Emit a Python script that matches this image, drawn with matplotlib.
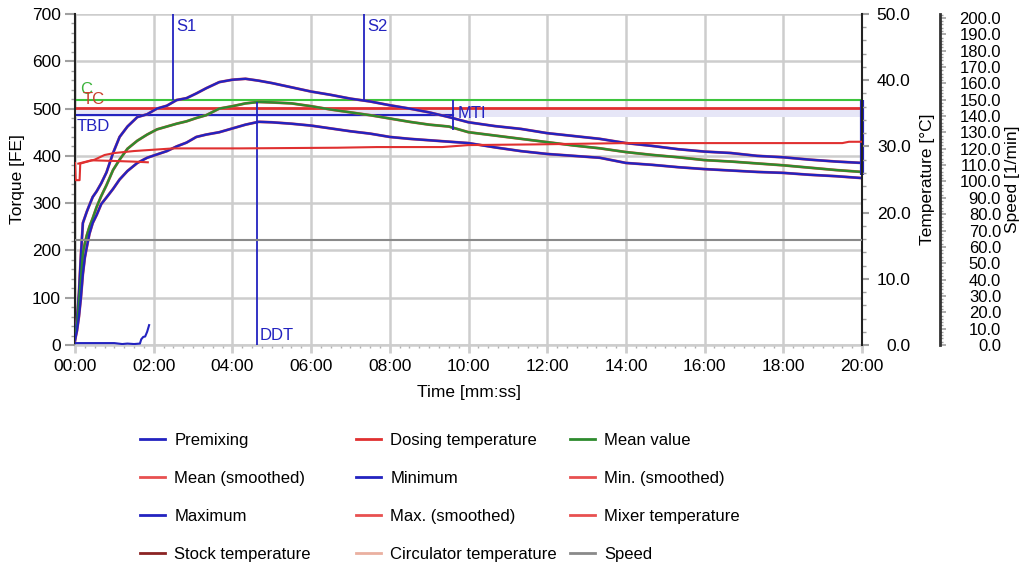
import matplotlib.pyplot as plt
from matplotlib.ticker import FuncFormatter, MultipleLocator, FormatStrFormatter
from matplotlib.lines import Line2D

plt.rcParams['font.family'] = ['Liberation Sans', 'DejaVu Sans']
plt.rcParams['font.size'] = 12.5

# --- measured curves (time in seconds) ---
time_s = [0, 3, 6, 9, 12, 15, 18, 22, 27, 33, 40, 48, 58, 68, 80, 95, 110, 125,
          140, 155, 170, 185, 200, 220, 240, 260, 280, 300, 330, 360, 390, 420,
          450, 480, 510, 540, 570, 600, 640, 680, 720, 760, 800, 840, 880, 920,
          960, 1000, 1040, 1080, 1120, 1160, 1200]

torque_max = [20, 53, 110, 190, 258, 270, 282, 296, 313, 325, 342, 365, 406, 440,
              462, 482, 488, 500, 506, 518, 522, 532, 543, 556, 561, 563, 559, 554,
              545, 536, 529, 521, 515, 507, 500, 492, 482, 471, 463, 457, 448, 442,
              436, 427, 421, 414, 409, 406, 400, 397, 392, 388, 385]

torque_mean = [15, 40, 90, 140, 194, 215, 232, 250, 268, 292, 315, 338, 370, 392,
               415, 432, 445, 456, 462, 468, 473, 480, 486, 500, 505, 511, 514, 513,
               511, 505, 498, 492, 486, 479, 472, 466, 462, 450, 443, 436, 429, 422,
               416, 408, 402, 397, 391, 388, 384, 380, 375, 370, 366]

torque_min = [10, 30, 60, 100, 150, 185, 207, 235, 258, 275, 298, 312, 330, 350,
              368, 385, 396, 403, 410, 420, 428, 440, 445, 450, 458, 466, 472, 471,
              468, 464, 458, 452, 447, 440, 436, 433, 430, 427, 418, 410, 404, 400,
              396, 385, 381, 376, 372, 369, 366, 364, 360, 357, 353]

premix_t = [0, 20, 40, 60, 72, 80, 90, 99, 101, 104, 107, 110, 113]
premix_torque = [4, 4, 4, 4, 2, 3, 2, 3, 12, 17, 18, 28, 42]

mixer_t = [0, 1, 7, 8, 15, 30, 45, 60, 90, 120, 150, 250, 400, 460, 560, 600,
           700, 840, 1000, 1170, 1180, 1200]
mixer_temp = [27.5, 24.9, 24.9, 27.4, 27.6, 28.0, 28.7, 29.0, 29.3, 29.5, 29.7,
              29.7, 29.8, 29.9, 29.9, 30.2, 30.3, 30.5, 30.5, 30.5, 30.7, 30.7]

dosing_t = [5, 25, 60, 90, 111]
dosing_temp = [27.4, 27.9, 27.8, 27.7, 27.6]

speed_t = [0, 1200]
speed_rpm = [64, 64]

# --- evaluation lines ---
marker_names = ['S1', 'DDT', 'S2', 'MTI']
marker_times = [149, 278, 441, 576]
marker_low = [518, 0, 518, 455]
marker_high = [700, 514, 700, 518]

level_c = 518
level_tc = 501
level_tbd = 486
band_low, band_high = 482, 501
end_bar = [360, 518]

BLUE = '#2323c0'
RED = '#e03030'
RED_S = '#e85050'
GREEN = '#2e8b2e'
GRID = '#cdcdcd'

fig = plt.figure(figsize=(10.26, 5.65), dpi=100)
ax = fig.add_axes([0.0731, 0.3894, 0.7671, 0.5858])
ax.set_xlim(0, 1200)
ax.set_ylim(0, 700)

ax.grid(True, which='major', color=GRID, lw=1.8, zorder=0)
ax.set_axisbelow(True)

ax.axhspan(band_low, band_high, color='#e6e6f7', lw=0, zorder=1)
ax.axhline(level_c, color='#3cc43c', lw=1.5, zorder=2)
ax.axhline(level_tc, color=RED, lw=2, zorder=2)
ax.plot([0, marker_times[3]], [level_tbd, level_tbd], color=BLUE, lw=1.5, zorder=2)

# smoothed traces underneath, raw traces on top
ax.plot(time_s, torque_max, color=RED_S, lw=2.0, zorder=3)
ax.plot(time_s, torque_mean, color=RED_S, lw=2.0, zorder=3)
ax.plot(time_s, torque_min, color=RED_S, lw=2.0, zorder=3)
ax.plot(time_s, torque_max, color=BLUE, lw=1.7, zorder=4)
ax.plot(time_s, torque_mean, color=GREEN, lw=1.7, zorder=4)
ax.plot(time_s, torque_min, color=BLUE, lw=1.7, zorder=4)
ax.plot(premix_t, premix_torque, color=BLUE, lw=1.5, zorder=4)

ax.vlines(marker_times, marker_low, marker_high, color=BLUE, lw=1.3, zorder=5)
ax.vlines(1200, end_bar[0], end_bar[1], color=BLUE, lw=3, zorder=5, clip_on=False)

txt = dict(fontsize=12, zorder=6)
ax.text(marker_times[0] + 5, 674, 'S1', color=BLUE, va='center', **txt)
ax.text(marker_times[2] + 5, 674, 'S2', color=BLUE, va='center', **txt)
ax.text(marker_times[1] + 4, 21, 'DDT', color=BLUE, va='center', **txt)
ax.text(marker_times[3] + 7, 490, 'MTI', color=BLUE, va='center', **txt)
ax.text(8, 541, 'C', color='#3cb43c', va='center', **txt)
ax.text(12, 520, 'TC', color='#c8402c', va='center', **txt)
ax.text(3, 463, 'TBD', color=BLUE, va='center', **txt)

ax.xaxis.set_major_locator(MultipleLocator(120))
ax.xaxis.set_minor_locator(MultipleLocator(15))
ax.xaxis.set_major_formatter(FuncFormatter(lambda s, _: f"{int(s // 60):02d}:{int(s % 60):02d}"))
ax.yaxis.set_major_locator(MultipleLocator(100))
ax.yaxis.set_minor_locator(MultipleLocator(20))
ax.tick_params(axis='x', which='major', length=6, width=2, color=GRID, pad=4)
ax.tick_params(axis='x', which='minor', length=2, width=1, color='#b0b0b0')
ax.tick_params(axis='y', which='major', length=7, width=1.5, color='#a0a0a0', pad=3)
ax.tick_params(axis='y', which='minor', length=3, width=1, color='#a0a0a0')

for side in ['top', 'right']:
    ax.spines[side].set_visible(False)
ax.spines['bottom'].set_color(GRID)
ax.spines['bottom'].set_linewidth(1.8)
ax.spines['left'].set_color('#222222')
ax.spines['left'].set_linewidth(1.5)

ax.set_ylabel('Torque [FE]', labelpad=5)
ax.set_xlabel('Time [mm:ss]', labelpad=8)

# temperature axis
ax_temp = ax.twinx()
ax_temp.set_ylim(0, 50)
ax_temp.plot(mixer_t, mixer_temp, color=RED, lw=1.5, zorder=3)
ax_temp.plot(dosing_t, dosing_temp, color=RED, lw=1.5, zorder=3)
ax_temp.yaxis.set_major_locator(MultipleLocator(10))
ax_temp.yaxis.set_minor_locator(MultipleLocator(2))
ax_temp.yaxis.set_major_formatter(FormatStrFormatter('%.1f'))
ax_temp.tick_params(axis='y', which='major', length=5, width=1.5, color='#a0a0a0', pad=30)
ax_temp.tick_params(axis='y', which='minor', length=3, width=1, color='#a0a0a0')
for lab in ax_temp.get_yticklabels():
    lab.set_horizontalalignment('right')
for side in ['top', 'left', 'bottom']:
    ax_temp.spines[side].set_visible(False)
ax_temp.spines['right'].set_color('#222222')
ax_temp.spines['right'].set_linewidth(1.5)
ax_temp.set_ylabel('Temperature [°C]', labelpad=7)

# speed axis
ax_speed = ax.twinx()
ax_speed.set_ylim(0, 202.4)
ax_speed.spines['right'].set_position(('axes', 1.099))
ax_speed.plot(speed_t, speed_rpm, color='#8a8a8a', lw=1.5, zorder=2)
ax_speed.yaxis.set_major_locator(MultipleLocator(10))
ax_speed.yaxis.set_minor_locator(MultipleLocator(2))
ax_speed.yaxis.set_major_formatter(FormatStrFormatter('%.1f'))
ax_speed.tick_params(axis='y', which='major', length=4, width=1.2, color='#a0a0a0',
                     pad=40, labelsize=12)
ax_speed.tick_params(axis='y', which='minor', length=2, width=1, color='#a0a0a0')
for lab in ax_speed.get_yticklabels():
    lab.set_horizontalalignment('right')
for side in ['top', 'left', 'bottom']:
    ax_speed.spines[side].set_visible(False)
ax_speed.spines['right'].set_color('#333333')
ax_speed.spines['right'].set_linewidth(2)
ax_speed.set_ylabel('Speed [1/min]', labelpad=3)

# legend, three fixed columns
legend_cols = [
    [('Premixing', BLUE), ('Mean (smoothed)', RED_S), ('Maximum', BLUE), ('Stock temperature', '#8b2323')],
    [('Dosing temperature', RED), ('Minimum', BLUE), ('Max. (smoothed)', RED_S), ('Circulator temperature', '#eab0a0')],
    [('Mean value', GREEN), ('Min. (smoothed)', RED_S), ('Mixer temperature', RED_S), ('Speed', '#8a8a8a')],
]
col_x = [140, 356, 570]
for x0, entries in zip(col_x, legend_cols):
    handles = [Line2D([], [], color=c, lw=2) for _, c in entries]
    labels = [n for n, _ in entries]
    fig.legend(handles, labels, loc='upper left', bbox_to_anchor=(x0 / 1026, 1 - 433 / 565),
               frameon=False, handlelength=1.5, handletextpad=0.55, labelspacing=1.38,
               borderaxespad=0, borderpad=0, fontsize=12)

fig.savefig('out.png', dpi=100)
